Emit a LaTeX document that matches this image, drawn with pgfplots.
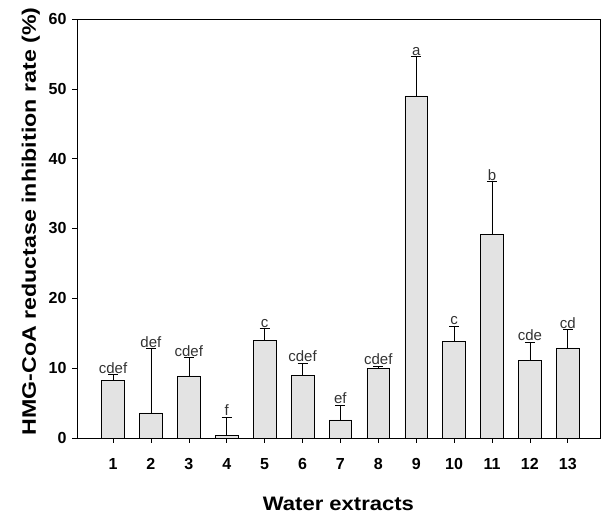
\documentclass[border=0pt]{standalone}
\usepackage{fontspec}
\setmainfont{Liberation Sans}
\newfontfamily\wide[FakeStretch=1.19]{Liberation Sans}
\newfontfamily\wideb[FakeStretch=1.13]{Liberation Sans}
\usepackage{pgfplots}
\usepackage{pgfplotstable}
\pgfplotsset{compat=1.18}
\pgfplotstableread{
x y err lab
1 8.3 0.8 cdef
2 3.6 9.2 def
3 8.9 2.6 cdef
4 0.4 2.6 f
5 14.0 1.7 c
6 9.0 1.7 cdef
7 2.6 2.1 ef
8 10.0 0.3 cdef
9 49.0 5.6 a
10 13.8 2.2 c
11 29.2 7.5 b
12 11.1 2.6 cde
13 12.9 2.6 cd
}\data
\begin{document}
\begin{tikzpicture}
\begin{axis}[
  scale only axis,
  width=523pt, height=419pt,
  xmin=0.05, xmax=13.85,
  ymin=0, ymax=60,
  xtick={1,...,13},
  ytick={0,10,...,60},
  tick align=outside,
  xtick pos=left, ytick pos=left,
  major tick length=5pt,
  axis line style={line width=0.8pt},
  tick style={line width=0.6pt, black},
  /pgf/number format/assume math mode=true,
  tick label style={font=\fontsize{16}{18}\selectfont\bfseries},
  xticklabel style={yshift=-12pt},
  yticklabel style={xshift=-2pt},
  xlabel={Water extracts},
  ylabel={HMG-CoA reductase inhibition rate (\%)},
  xlabel style={yshift=-20pt, font=\wideb\fontsize{19.5}{22}\selectfont\bfseries},
  ylabel style={yshift=2pt, xshift=7pt, font=\wide\fontsize{19.5}{22}\selectfont\bfseries},
  clip=false,
]
\addplot[ybar, bar width=0.6, fill=gray!22, draw=black, line width=0.6pt,
  error bars/.cd, y dir=plus, y explicit, error mark options={rotate=90, mark size=5pt, line width=0.6pt}, error bar style={line width=0.6pt}]
  table[x=x, y=y, y error=err] {\data};
\addplot[only marks, mark=none, nodes near coords, point meta=explicit symbolic,
  nodes near coords style={anchor=south, inner sep=1pt, font=\fontsize{15}{17}\selectfont, text=black!80}]
  table[x=x, y expr=\thisrow{y}+\thisrow{err}, meta=lab] {\data};
\path[use as bounding box] (rel axis cs:0,0) ++(-77pt,-84pt) rectangle ([xshift=9pt,yshift=19pt]rel axis cs:1,1);
\end{axis}
\end{tikzpicture}
\end{document}
